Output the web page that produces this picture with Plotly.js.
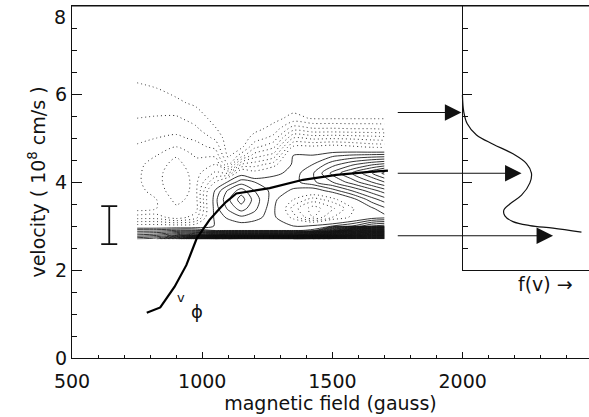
<!DOCTYPE html>
<html>
<head>
<meta charset="utf-8">
<script src="https://cdn.plot.ly/plotly-3.0.1.min.js"></script>
<style>html,body{margin:0;padding:0;background:#fff;}#chart{width:589px;height:417px;}</style>
</head>
<body>
<div id="chart"></div>
<script>
// ---- data ----
// contour field grid (magnetic field x velocity), columns listed per x (bottom -> top)
const fieldX = [750, 825, 900, 975, 1050, 1100, 1150, 1200, 1275, 1350, 1425, 1500, 1575, 1650, 1700];
const fieldY = [2.7, 2.8, 2.9, 3.0, 3.2, 3.4, 3.6, 3.8, 4.0, 4.2, 4.4, 4.6, 4.8, 5.0, 5.2, 5.45, 5.8, 6.3];
const fieldZ = [
  [8, 5, 2.5, -0.5, -3.5, -5.5, -5.8, -5.4, -5.2, -5.2, -5.3, -5.6, -5.9, -6.2, -6.6, -7.0, -7.5, -8.05],
  [9, 5.5, 2.5, -0.5, -3.5, -5.0, -5.0, -4.5, -4.3, -4.3, -4.5, -5.0, -5.5, -6.0, -6.4, -6.9, -7.6, -8.2],
  [14, 7, 3, -0.5, -4.6, -4.2, -3.7, -3.4, -3.3, -3.35, -3.6, -4.1, -5.0, -5.8, -6.3, -6.85, -7.8, -8.6],
  [22, 9, 3, -0.3, -3.5, -4.5, -4.4, -4.3, -4.3, -4.4, -4.7, -5.1, -5.6, -6.2, -6.8, -7.4, -8.2, -8.6],
  [32, 11, 1.8, 1.1, 1.4, 1.6, 1.7, 1.2, -1.0, -2.8, -4.0, -5.2, -6.3, -7.2, -7.9, -8.4, -8.6, -8.6],
  [34, 12, 1.8, 1.3, 2.2, 3.2, 3.8, 3.2, 1.2, -3.0, -7.0, -8.3, -8.6, -8.6, -8.6, -8.6, -8.6, -8.6],
  [35, 12, 1.8, 1.5, 2.8, 4.5, 5.5, 4.5, 2.5, 0.5, -3.0, -6.5, -8.3, -8.6, -8.6, -8.6, -8.6, -8.6],
  [35, 12, 1.8, 1.3, 2.5, 3.3, 3.6, 3.0, 2.0, -0.5, -2.5, -4.5, -6.3, -7.6, -8.3, -8.6, -8.6, -8.6],
  [35, 12, 1.8, 1.2, 1.3, 1.2, 1.4, 1.6, 1.8, 0.6, -1.5, -3.5, -5.2, -6.6, -7.6, -8.3, -8.6, -8.6],
  [35, 12, 1.8, 1.0, -1.5, -2.5, -1.0, 0.8, 1.6, 1.5, 1.3, 1.05, -0.8, -3.0, -5.3, -7.7, -8.6, -8.6],
  [36, 14, 2.2, 1.3, -4.0, -4.5, -2.5, 0.2, 2.8, 2.9, 2.0, 1.1, -0.8, -3.3, -5.8, -8.1, -8.6, -8.6],
  [40, 22, 9, 2.0, -2.0, -3.2, -1.5, 1.5, 4.0, 5.3, 3.6, 1.8, -0.5, -3.2, -5.8, -8.1, -8.6, -8.6],
  [40, 26, 14, 3.0, -0.8, -1.2, 0.5, 3.0, 5.5, 7.0, 4.8, 2.2, -0.8, -3.3, -5.9, -8.1, -8.6, -8.6],
  [40, 28, 16, 5.0, 0.3, 0.8, 2.5, 4.5, 7.0, 8.9, 5.8, 2.4, -1.2, -3.5, -5.9, -8.1, -8.6, -8.6],
  [40, 28, 16, 5.5, 0.6, 1.8, 3.5, 5.5, 8.0, 10.3, 6.3, 2.5, -1.3, -3.6, -6.0, -8.1, -8.6, -8.6]
];

// v_phi curve
const vphiX = [787, 839, 894, 939, 979, 1028, 1067, 1092, 1131, 1259, 1387, 1515, 1643, 1713];
const vphiY = [1.03, 1.15, 1.62, 2.11, 2.72, 3.14, 3.40, 3.55, 3.74, 3.86, 4.05, 4.16, 4.23, 4.26];

// distribution function f(v) drawn in the right panel
const fvX = [1999, 2004, 2017, 2053, 2117, 2193, 2245, 2264, 2258, 2226, 2181, 2158, 2162, 2193, 2258, 2347, 2456];
const fvY = [5.98, 5.60, 5.33, 5.07, 4.86, 4.64, 4.42, 4.20, 3.98, 3.70, 3.50, 3.36, 3.23, 3.10, 3.01, 2.95, 2.86];

// arrows
const arrowY = [5.58, 4.20, 2.78];
const arrowTipX = [1995, 2226, 2347];
const arrowTailX = [1745, 1745, 1745];

// error bar
const errX = [643];
const errY = [3.02];
const errHalf = [0.43];

// tick labels
const xTickVals = [500, 1000, 1500, 2000];
const yTickVals = [0, 2, 4, 6, 8];
const yTickText = ['0', '2', '4', '6', ''];
const yTopLabel = '8';

const FONT = 'DejaVu Sans, Liberation Sans, sans-serif';
const FS = 19;

const traces = [
  {
    type: 'contour', x: fieldX, y: fieldY, z: fieldZ, transpose: true,
    contours: {coloring: 'none', start: -8, end: -1, size: 1, showlabels: false},
    line: {color: '#111', width: 0.85, dash: '1px,3px', smoothing: 0.8},
    showscale: false, hoverinfo: 'skip'
  },
  {
    type: 'contour', x: fieldX, y: fieldY, z: fieldZ, transpose: true,
    contours: {coloring: 'none', start: 1, end: 40, size: 1, showlabels: false},
    line: {color: '#111', width: 0.85, smoothing: 0.8},
    showscale: false, hoverinfo: 'skip'
  },
  {
    type: 'scatter', mode: 'lines', x: vphiX, y: vphiY,
    line: {color: '#000', width: 2.2}, hoverinfo: 'skip'
  },
  {
    type: 'scatter', mode: 'lines', x: fvX, y: fvY,
    line: {color: '#111', width: 1.2, shape: 'spline', smoothing: 1}, hoverinfo: 'skip'
  },
  {
    type: 'scatter', mode: 'markers', x: errX, y: errY,
    marker: {size: 1, opacity: 0},
    error_y: {type: 'data', array: errHalf, visible: true, color: '#111', thickness: 1.8, width: 8},
    hoverinfo: 'skip'
  },
  // empty trace so the f(v) panel axes are built
  {type: 'scatter', mode: 'lines', x: [], y: [], xaxis: 'x2', yaxis: 'y2', hoverinfo: 'skip'}
];

const annotations = arrowY.map((y, i) => ({
  x: arrowTipX[i], y: y, xref: 'x', yref: 'y',
  ax: arrowTailX[i], ay: y, axref: 'x', ayref: 'y',
  text: '', showarrow: true, arrowhead: 2, arrowsize: 3, arrowwidth: 1.1,
  arrowcolor: '#111', standoff: 0
}));
annotations.push({x: 920, y: 1.38, xref: 'x', yref: 'y', text: 'v', showarrow: false,
  font: {family: FONT, size: 13, color: '#111'}});
annotations.push({x: 978, y: 1.05, xref: 'x', yref: 'y', text: 'ϕ', showarrow: false,
  font: {family: FONT, size: 18, color: '#111'}});
annotations.push({x: 2318, y: 1.68, xref: 'x', yref: 'y', text: 'f(v) →', showarrow: false,
  font: {family: FONT, size: FS, color: '#111'}});
// top y tick label (drawn just below the tick, as in the reference)
annotations.push({x: 0, xref: 'paper', xanchor: 'right', xshift: -4, y: 8, yref: 'y', yanchor: 'top', yshift: 2,
  text: yTopLabel, showarrow: false, font: {family: FONT, size: FS, color: '#111'}});

const layout = {
  width: 589, height: 417,
  margin: {l: 72, r: 0, t: 6, b: 59, pad: 0},
  paper_bgcolor: '#fff', plot_bgcolor: 'rgba(0,0,0,0)',
  showlegend: false,
  font: {family: FONT, size: FS, color: '#111'},
  xaxis: {
    range: [500, 2485], domain: [0, 1], anchor: 'y',
    tickmode: 'array', tickvals: xTickVals, ticktext: xTickVals.map(String),
    ticks: 'inside', ticklen: 6, tickwidth: 1, tickcolor: '#111', ticklabelstandoff: 6,
    minor: {tickmode: 'linear', tick0: 500, dtick: 100, ticks: 'inside', ticklen: 3, tickcolor: '#111', showgrid: false},
    showline: true, linecolor: '#111', linewidth: 1, mirror: true,
    showgrid: false, zeroline: false,
    tickfont: {family: FONT, size: FS, color: '#111'},
    title: {text: 'magnetic field (gauss)', font: {family: FONT, size: FS, color: '#111'}, standoff: 2}
  },
  yaxis: {
    range: [0, 8], domain: [0, 1], anchor: 'x',
    tickmode: 'array', tickvals: yTickVals, ticktext: yTickText,
    ticks: 'inside', ticklen: 10, tickwidth: 1, tickcolor: '#111',
    minor: {tickmode: 'linear', tick0: 0, dtick: 0.5, ticks: 'inside', ticklen: 5, tickcolor: '#111', showgrid: false},
    showline: true, linecolor: '#111', linewidth: 1, mirror: false,
    showgrid: false, zeroline: false,
    tickfont: {family: FONT, size: FS, color: '#111'},
    title: {text: 'velocity ( 10<sup>8</sup> cm/s )', font: {family: FONT, size: FS, color: '#111'}, standoff: 4}
  },
  xaxis2: {
    domain: [0.75567, 1], anchor: 'y2', range: [0, 1],
    showline: true, linecolor: '#111', linewidth: 1, ticks: '', showticklabels: false,
    showgrid: false, zeroline: false, fixedrange: true
  },
  yaxis2: {
    domain: [0.25, 1], anchor: 'x2', range: [2, 8],
    tickmode: 'array', tickvals: [4, 6], ticks: 'inside', ticklen: 9, tickcolor: '#111',
    minor: {tickmode: 'linear', tick0: 0, dtick: 0.5, ticks: 'inside', ticklen: 5, tickcolor: '#111', showgrid: false},
    showline: true, linecolor: '#111', linewidth: 1, showticklabels: false,
    showgrid: false, zeroline: false, fixedrange: true
  },
  shapes: [
    {type: 'line', xref: 'paper', yref: 'paper', x0: 0, x1: 1, y0: 1, y1: 1,
     line: {color: '#111', width: 1}, layer: 'above'}
  ],
  annotations: annotations
};

Plotly.newPlot('chart', traces, layout, {staticPlot: true, displayModeBar: false});
</script>
</body>
</html>
